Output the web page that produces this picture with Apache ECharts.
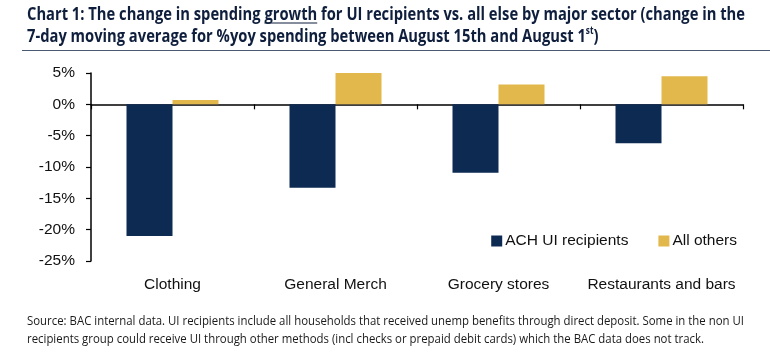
<!DOCTYPE html>
<html>
<head>
<meta charset="utf-8">
<script src="https://cdn.jsdelivr.net/npm/echarts@6/dist/echarts.min.js"></script>
<style>
html,body{margin:0;padding:0;background:#fff;}
#chart{width:770px;height:362px;}
</style>
</head>
<body>
<div id="chart"></div>
<script>
// ---- data ----
var categories = ['Clothing', 'General Merch', 'Grocery stores', 'Restaurants and bars'];
var seriesNames = ['ACH UI recipients', 'All others'];
var achUI = [-21.0, -13.3, -10.9, -6.2];
var allOthers = [0.7, 5.0, 3.15, 4.5];
var yTicks = { min: -25, max: 5, interval: 5 };

var titleLine1a = 'Chart 1: The change in spending ';
var titleUnder = 'growth';
var titleLine1b = ' for UI recipients vs. all else by major sector (change in the';
var titleLine2 = '7-day moving average for %yoy spending between August 15th and August 1';
var titleSup = 'st';
var titleLine2end = ')';
var sourceLine1 = 'Source: BAC internal data. UI recipients include all households that received unemp benefits through direct deposit. Some in the non UI';
var sourceLine2 = 'recipients group could receive UI through other methods (incl checks or prepaid debit cards) which the BAC data does not track.';

// ---- styles ----
var navy = '#0D2A52';
var gold = '#E2B84D';
var titleColor = '#0E1E3C';
var titleFont = 'bold 18px "Open Sans", sans-serif';
var srcFont = '13px "Open Sans", sans-serif';
var baseFont = 'Liberation Sans, Arial, sans-serif';

var ctx = document.createElement('canvas').getContext('2d');
ctx.font = titleFont;
var full1 = ctx.measureText(titleLine1a + titleUnder + titleLine1b).width;
var tScale = 718 / full1;
var ulStart = 27 + ctx.measureText(titleLine1a).width * tScale;
var ulEnd = ulStart + ctx.measureText(titleUnder).width * tScale;
ctx.font = srcFont;
var sScale = 717 / ctx.measureText(sourceLine1).width;

var chart = echarts.init(document.getElementById('chart'), null, {renderer: 'canvas'});
chart.setOption({
  animation: false,
  backgroundColor: '#fff',
  textStyle: { fontFamily: baseFont },
  grid: { left: 91, right: 27, top: 73, bottom: 101, containLabel: false },
  legend: {
    data: seriesNames,
    right: 28, top: 228,
    itemWidth: 11, itemHeight: 11, itemGap: 30,
    icon: 'rect',
    textStyle: { fontSize: 15.5, color: '#111', fontFamily: baseFont, padding: [0,0,0,-2] }
  },
  xAxis: [{
    type: 'category', data: categories,
    axisLine: { onZero: true, lineStyle: { color: '#000', width: 1.5 } },
    axisTick: { show: true, length: 5, lineStyle: { color: '#000', width: 1.2 } },
    axisLabel: { show: false }
  }, {
    type: 'category', data: categories, position: 'bottom',
    axisLine: { show: false, onZero: false }, axisTick: { show: false },
    axisLabel: { fontSize: 15.5, color: '#111', margin: 16, interval: 0, fontFamily: baseFont }
  }],
  yAxis: {
    type: 'value', min: yTicks.min, max: yTicks.max, interval: yTicks.interval,
    axisLine: { show: true, lineStyle: { color: '#000', width: 1.5 } },
    axisTick: { show: true, length: 5, lineStyle: { color: '#000', width: 1.2 } },
    splitLine: { show: false },
    axisLabel: { fontSize: 15.5, color: '#111', margin: 16, formatter: '{value}%', fontFamily: baseFont }
  },
  series: [{
    name: seriesNames[0], type: 'bar', data: achUI, barWidth: 46, barGap: '0%',
    itemStyle: { color: navy }
  }, {
    name: seriesNames[1], type: 'bar', data: allOthers, barWidth: 46, barGap: '0%',
    itemStyle: { color: gold }
  }],
  graphic: [{
    type: 'text', x: 27, y: 4, scaleX: tScale, scaleY: 1,
    style: {
      x: 0, y: 0,
      text: titleLine1a + titleUnder + titleLine1b + '\n' + titleLine2 + '{sup|' + titleSup + '}' + titleLine2end,
      font: titleFont, fill: titleColor, lineHeight: 22,
      rich: { sup: { fontSize: 10, fontWeight: 'bold', fontFamily: '"Open Sans", sans-serif', fill: titleColor, color: titleColor, verticalAlign: 'top', lineHeight: 14 } }
    }
  }, {
    type: 'line', shape: { x1: ulStart, y1: 23, x2: ulEnd, y2: 23 },
    style: { stroke: titleColor, lineWidth: 1.2 }
  }, {
    type: 'line', shape: { x1: 22, y1: 50.5, x2: 770, y2: 50.5 },
    style: { stroke: '#4A5A75', lineWidth: 1.2 }
  }, {
    type: 'text', x: 27, y: 312, scaleX: sScale, scaleY: 1,
    style: {
      x: 0, y: 0,
      text: sourceLine1 + '\n' + sourceLine2, fill: '#1a1a1a', lineHeight: 18,
      font: srcFont
    }
  }]
});
</script>
</body>
</html>
